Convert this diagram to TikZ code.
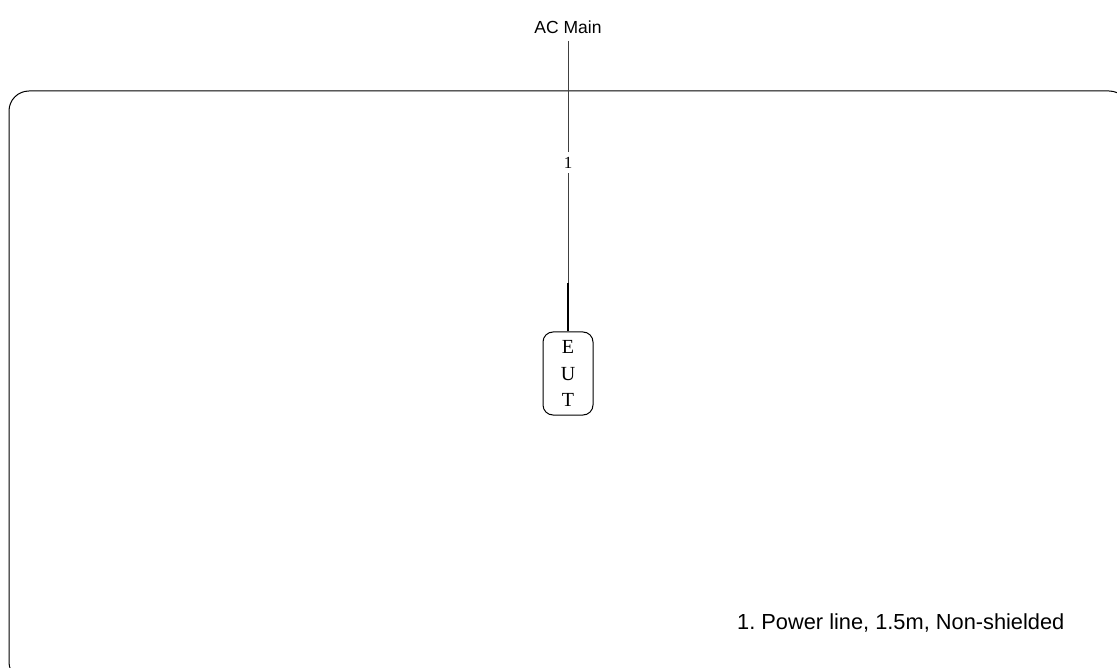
\documentclass[tikz,border=0pt]{standalone}
\usepackage{fontspec}
\setmainfont{Liberation Serif}
\setsansfont{Liberation Sans}
\frenchspacing
\begin{document}
\begin{tikzpicture}[x=1pt,y=-1pt,
  wire/.style={draw=black!75,line width=0.8pt},
  eutbox/.style={draw,rounded corners=10pt,line width=1pt,minimum width=50pt,minimum height=83pt,inner sep=0pt,align=center,font=\fontsize{20}{26.5}\selectfont\rmfamily},
  lbl/.style={font=\sffamily\fontsize{17.5}{20}\selectfont,inner sep=1pt}]
\useasboundingbox (0,0) rectangle (1117,668);
\begin{scope}
\clip (0,0) rectangle (1117,668);
\draw[line width=1pt,rounded corners=20pt] (9,91) rectangle (1129,682);
\end{scope}
\node[lbl] (ac) at (568,27) {AC Main};
\coordinate (top) at (568,41);
\node[eutbox] (eut) at (568,373.5) {E\\U\\T};
\node[font=\rmfamily\fontsize{17}{19}\selectfont,inner sep=0pt,minimum height=21pt] (n1) at (568,162.5) {1};
\coordinate (k) at (568,283);
\draw[wire] (top) -- (n1.north);
\draw[wire] (n1.south) -- (k);
\draw[line width=1.3pt] (k) -- (eut.north);
\node[font=\sffamily\fontsize{21.8}{24}\selectfont,anchor=west,inner sep=0pt] (note) at (737,623) {1. Power line, 1.5m, Non-shielded};
\end{tikzpicture}
\end{document}
